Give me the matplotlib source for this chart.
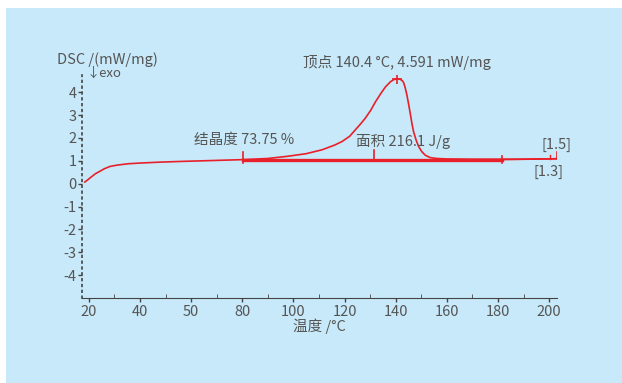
import matplotlib
matplotlib.use('Agg')
import matplotlib.pyplot as plt
from matplotlib.patches import Rectangle

plt.rcParams['font.family'] = ['Liberation Sans Narrow', 'Noto Sans CJK SC', 'DejaVu Sans']

# DSC curve (temperature degC, mW/mg)
temp = [18.4, 19.5, 21.0, 22.5, 24.3, 26.0, 28.2, 31.0, 35.4, 40.0, 47.8, 55.6, 65.0,
        80.4, 90.0, 98.0, 105.0, 111.2, 116.0, 119.0, 122.0, 124.2, 126.5, 128.1,
        130.2, 132.1, 134.3, 136.0, 138.0, 139.3, 140.4, 141.6, 142.5, 143.1, 143.7,
        144.4, 145.1, 145.8, 146.4, 147.0, 148.0, 149.0, 150.2, 151.6, 153.5, 156.0,
        160.0, 170.0, 180.0, 190.0, 200.0, 203.0]
dsc = [0.07, 0.16, 0.30, 0.43, 0.54, 0.65, 0.75, 0.81, 0.87, 0.90, 0.94, 0.97, 1.00,
       1.05, 1.10, 1.20, 1.31, 1.48, 1.68, 1.84, 2.07, 2.35, 2.64, 2.86,
       3.20, 3.58, 3.96, 4.23, 4.46, 4.55, 4.59, 4.57, 4.51, 4.42, 4.20,
       3.87, 3.45, 3.00, 2.60, 2.27, 1.90, 1.62, 1.40, 1.24, 1.14, 1.10,
       1.08, 1.07, 1.07, 1.07, 1.08, 1.09]

base_t = [80.4, 181.6]
base_y = [1.05, 1.05]
tail_t = [181.6, 203.0]
tail_y = [1.05, 1.09]

xticks = [20, 40, 60, 80, 100, 120, 140, 160, 180, 200]
xticklabels = ['20', '40', '50', '80', '100', '120', '140', '160', '180', '200']
yticks = [-4, -3, -2, -1, 0, 1, 2, 3, 4]

red = '#e8202a'
grey = '#555555'

fig = plt.figure(figsize=(6.22, 3.83), dpi=100, facecolor='white')
bg = Rectangle((6 / 622, 0), 1, 375 / 383, transform=fig.transFigure,
               facecolor='#c8e9f9', edgecolor='none', zorder=-10)
fig.patches.append(bg)
ax = fig.add_axes([82 / 622, 85 / 383, 475 / 622, 223 / 383])
ax.set_facecolor('none')
ax.set_zorder(5)

ax.plot(temp, dsc, color=red, lw=1.2, zorder=3)
ax.plot(base_t, base_y, color=red, lw=2.4, zorder=3)
ax.plot(tail_t, tail_y, color=red, lw=1.2, zorder=3)

# marker ticks on the baseline
ax.plot([80.4, 80.4], [0.92, 1.38], color=red, lw=1.2)
ax.plot([131.5, 131.5], [1.05, 1.45], color=red, lw=1.2)
ax.plot([181.6, 181.6], [0.92, 1.20], color=red, lw=1.2)
ax.plot([200.3, 200.3], [1.08, 1.25], color=red, lw=1.0)
ax.plot([203.0, 203.0], [1.09, 1.38], color=red, lw=1.2)
ax.plot([140.4], [4.591], marker='+', color=red, ms=7, mew=1.2)

ax.set_xlim(17.3, 203.1)
ax.set_ylim(-5.0, 4.75)
ax.set_xticks(xticks)
ax.set_xticklabels(xticklabels)
ax.set_xticks([30, 50, 70, 90, 110, 130, 150, 170, 190], minor=True)
ax.set_yticks(yticks)
ax.set_yticklabels(['-4', '-3', '-2', '-1', '0', '1', '2', '3', '4'])

for s in ['top', 'right']:
    ax.spines[s].set_visible(False)
ax.spines['bottom'].set_color('#444444')
ax.spines['left'].set_color('#444444')
ax.spines['left'].set_linestyle((0, (1, 2.5)))
ax.spines['left'].set_linewidth(1.2)
ax.tick_params(axis='both', colors='#444444', labelcolor=grey, labelsize=10.5,
               length=3, width=1)
ax.tick_params(axis='x', which='minor', direction='in', length=3, color='#444444')
ax.tick_params(axis='y', pad=1)
ax.tick_params(axis='x', pad=2)

ax.set_xlabel('温度 /°C', color=grey, fontsize=10.5, labelpad=0)

fig.text(57 / 622, 1 - 60 / 383, 'DSC /(mW/mg)', color=grey, fontsize=10.5, va='center')
fig.text(86 / 622, 1 - 73 / 383, '↓exo', color=grey, fontsize=9.5, va='center')

ax.text(140.4, 4.95, '顶点 140.4 °C, 4.591 mW/mg', color=grey, fontsize=10.5,
        ha='center', va='bottom')
ax.text(61.0, 1.6, '结晶度 73.75 %', color=grey, fontsize=10.5, va='bottom')
ax.text(124.5, 1.5, '面积 216.1 J/g', color=grey, fontsize=10.5, va='bottom')
ax.text(197.0, 1.4, '[1.5]', color=grey, fontsize=10.5, va='bottom')
ax.text(193.8, 0.2, '[1.3]', color=grey, fontsize=10.5, va='bottom')

fig.savefig('out.png', dpi=100, facecolor=fig.get_facecolor())
